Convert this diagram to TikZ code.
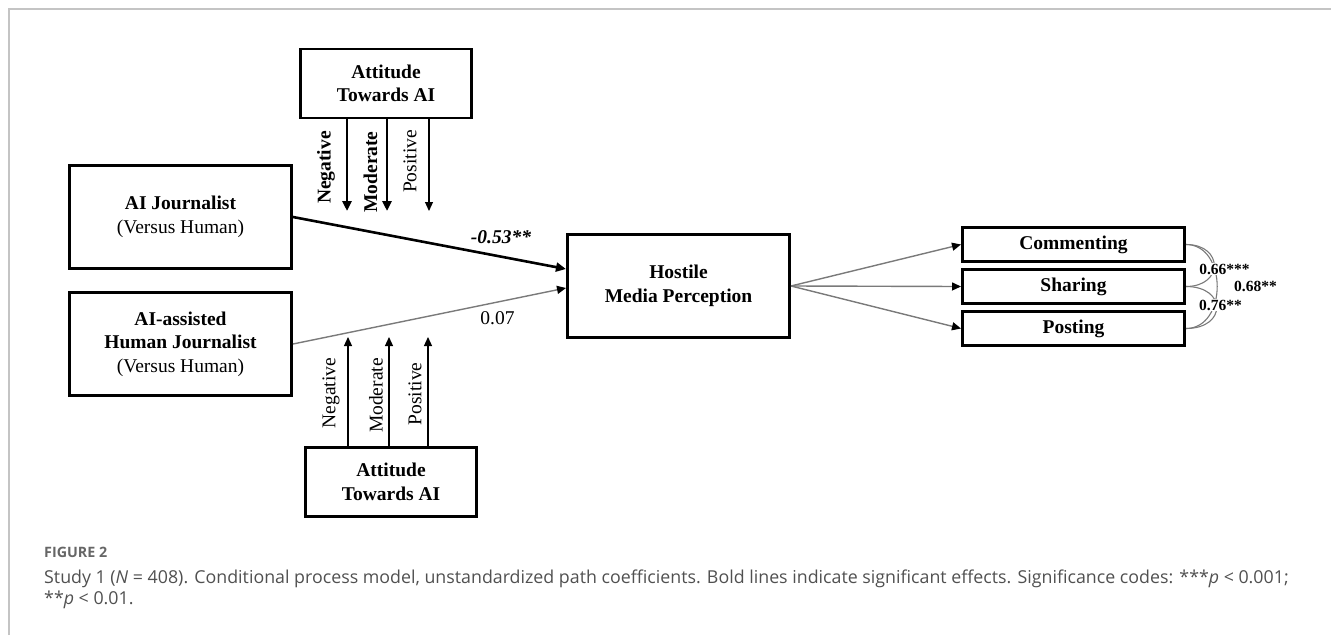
\documentclass[tikz,border=0pt]{standalone}
\usepackage{fontspec}
\setmainfont{Liberation Serif}
\newfontfamily\captionsans{Open Sans}
\usetikzlibrary{arrows.meta,positioning,calc}

\newcommand{\diagsize}{\fontsize{19.5}{23.5}\selectfont}
\newcommand{\coefsize}{\fontsize{15.5}{18}\selectfont}

\definecolor{pathgray}{HTML}{7A7A7A}
\definecolor{framegray}{HTML}{C4C4C4}
\definecolor{captiongray}{HTML}{505050}
\definecolor{fignumgray}{HTML}{666666}

\tikzset{
  >={Stealth[length=10pt,width=9pt,inset=0pt]},
  varBox/.style={draw,line width=2.6pt,minimum width=222.4pt,minimum height=103.4pt,align=center,font=\diagsize,inner sep=2pt},
  modBox/.style={varBox,minimum width=171.4pt,minimum height=68.8pt},
  outBox/.style={varBox,minimum width=222.4pt,minimum height=34.4pt},
  sigPath/.style={->,line width=2.6pt},
  nsPath/.style={-{Stealth[length=9pt,width=8pt,inset=0pt,color=black]},draw=pathgray,line width=1.4pt},
  sigMod/.style={->,line width=2.6pt},
  nsMod/.style={-{Stealth[length=9pt,width=8pt,inset=0pt]},line width=1.2pt},
  modLabel/.style={rotate=90,font=\diagsize,inner sep=0pt},
  coefLabel/.style={font=\diagsize,inner sep=1pt},
  corrLabel/.style={font=\coefsize,fill=white,inner sep=1pt},
  covArc/.style={draw=pathgray,line width=1.1pt},
}

\begin{document}
\begin{tikzpicture}[x=1pt,y=-1pt]
\useasboundingbox (0,0) rectangle (1331,635);
\draw[framegray,line width=1.5pt] (9,635) |- (1331,9);

% ===== Predictors =====
\node[varBox] (aiJournalist) at (180.5,217) {\textbf{AI Journalist}\\(Versus Human)};
\node[varBox] (aiAssisted) at (180.5,344) {\textbf{AI-assisted}\\\textbf{Human Journalist}\\(Versus Human)};

% ===== Mediator =====
\node[varBox] (hostile) at (678.5,286) {\textbf{Hostile}\\\textbf{Media Perception}};

% ===== Moderators (attitude towards AI) =====
\node[modBox] (attTop) at (386,83.5) {\textbf{Attitude}\\\textbf{Towards AI}};
\node[modBox] (attBottom) at (391,482) {\textbf{Attitude}\\\textbf{Towards AI}};

\foreach \x/\n/\s in {347/Neg/sigMod,387/Mod/sigMod,429/Pos/nsMod} {
  \coordinate (top\n) at (\x,211);
  \draw[\s] (attTop.south -| top\n) -- (top\n);
}
\foreach \x/\n in {348/Neg,389/Mod,428/Pos} {
  \coordinate (bot\n) at (\x,337);
  \draw[nsMod] (attBottom.north -| bot\n) -- (bot\n);
}
\node[modLabel] at (326,167.5) {\textbf{Negative}};
\node[modLabel] at (370.5,172) {\textbf{Moderate}};
\node[modLabel] at (410,161.5) {Positive};
\node[modLabel] at (331,393) {Negative};
\node[modLabel] at (376,395.5) {Moderate};
\node[modLabel] at (415,394) {Positive};

% ===== Paths to the mediator =====
\draw[sigPath] (aiJournalist.east) -- ($(hostile.west)+(0,-17)$);
\node[coefLabel] at (501,237) {\textbf{\textit{-0.53**}}};
\draw[nsPath] (aiAssisted.east) -- ($(hostile.west)+(0,2)$);
\node[coefLabel] at (497.5,318) {0.07};

% ===== Outcomes =====
\node[outBox] (commenting) at (1073.5,244.5) {\textbf{Commenting}};
\node[outBox,below=5pt of commenting] (sharing) {\textbf{Sharing}};
\node[outBox,below=5pt of sharing] (posting) {\textbf{Posting}};
\foreach \o in {commenting,sharing,posting} {\draw[nsPath] (hostile.east) -- (\o.west);}

% ===== Correlations between outcomes =====
\draw[covArc] (commenting.east) to[out=0,in=0,looseness=2.3] (sharing.east);
\draw[covArc] (commenting.east) to[out=0,in=0,looseness=1.27] (posting.east);
\draw[covArc] (sharing.east) to[out=0,in=0,looseness=2.5] (posting.east);
\node[corrLabel] at (1224.5,269) {\textbf{0.66***}};
\node[corrLabel] at (1220.5,305) {\textbf{0.76**}};
\node[corrLabel] at (1255.5,286) {\textbf{0.68**}};

% ===== Caption =====
\node[anchor=west,inner sep=0pt,font=\captionsans\bfseries\fontsize{14.3}{16}\selectfont,text=fignumgray] (figNum) at (44,552) {FIGURE 2};
\node[anchor=north west,inner sep=0pt,align=left,font=\captionsans\fontsize{17.8}{21.5}\selectfont,text=captiongray] (capBody) at (44,569.5)
  {Study 1 ({\itshape N} = 408). Conditional process model, unstandardized path coefficients. Bold lines indicate significant effects. Significance codes: ***{\itshape p} < 0.001;\\**{\itshape p} < 0.01.};

\end{tikzpicture}
\end{document}
